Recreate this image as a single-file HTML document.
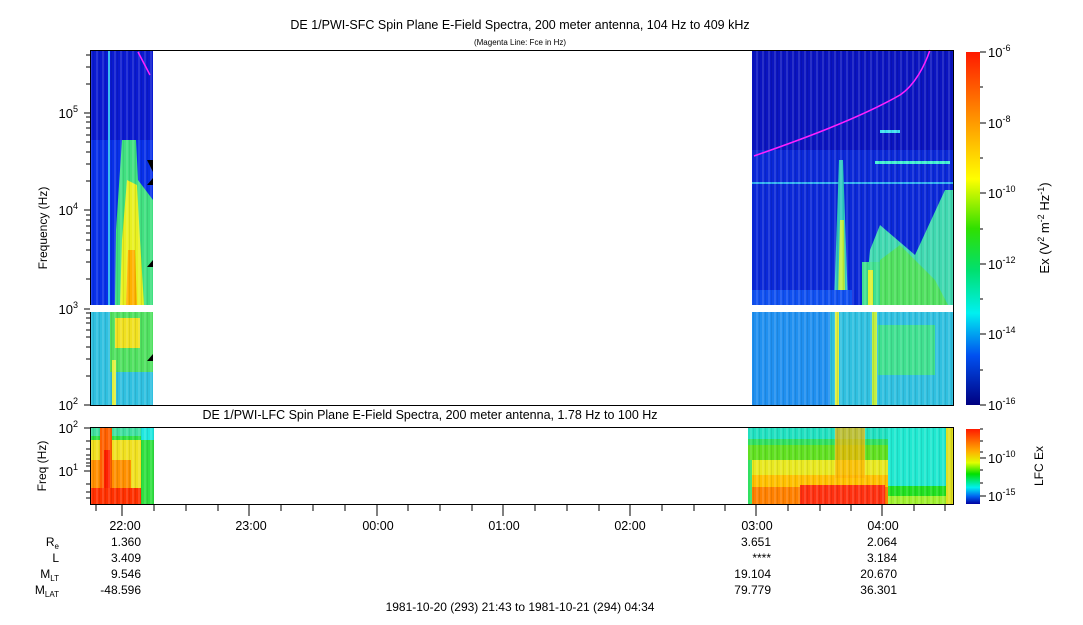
<!DOCTYPE html>
<html><head><style>
body{margin:0;background:#fff;width:1083px;height:620px;overflow:hidden;font-family:"Liberation Sans",sans-serif}
svg text{font-family:"Liberation Sans",sans-serif;fill:#000}
</style></head><body>
<svg width="1083" height="620" xmlns="http://www.w3.org/2000/svg">
<defs>
<linearGradient id="cb" x1="0" y1="0" x2="0" y2="1">
<stop offset="0" stop-color="#ff1a00"/><stop offset="0.2" stop-color="#ff9a00"/>
<stop offset="0.36" stop-color="#ffff00"/><stop offset="0.5" stop-color="#30e000"/>
<stop offset="0.62" stop-color="#00e070"/><stop offset="0.74" stop-color="#00f0f0"/>
<stop offset="0.86" stop-color="#0050f0"/><stop offset="1" stop-color="#000080"/>
</linearGradient>
<linearGradient id="cb2" x1="0" y1="0" x2="0" y2="1">
<stop offset="0" stop-color="#ff1a00"/><stop offset="0.3" stop-color="#ffb000"/>
<stop offset="0.45" stop-color="#e0ff00"/><stop offset="0.6" stop-color="#00e000"/>
<stop offset="0.78" stop-color="#00f0f0"/><stop offset="0.9" stop-color="#0060f0"/>
<stop offset="1" stop-color="#0000a0"/>
</linearGradient>
<pattern id="str" width="6" height="4" patternUnits="userSpaceOnUse">
<rect width="2" height="4" fill="#fff" opacity="0.12"/><rect x="3" width="1" height="4" fill="#000" opacity="0.08"/>
</pattern>
</defs>
<text x="520" y="29" font-size="12.5" text-anchor="middle">DE 1/PWI-SFC  Spin Plane E-Field Spectra, 200 meter antenna, 104 Hz to 409 kHz</text>
<text x="520" y="45" font-size="8" text-anchor="middle">(Magenta Line: Fce in Hz)</text>

<!-- left block main -->
<rect x="91" y="50" width="62" height="255" fill="#0a1ad0"/>
<rect x="91" y="140" width="62" height="165" fill="#0830e8"/>
<polygon points="122,140 136,140 138,180 153,200 153,305 115,305 116,230" fill="#40e080"/>
<polygon points="127,180 137,185 140,240 144,305 120,305 122,240" fill="#e8f020"/>
<polygon points="128,250 135,250 137,305 126,305" fill="#ffb000"/>
<rect x="108" y="50" width="2" height="255" fill="#20b0f0"/>
<rect x="91" y="312" width="62" height="93" fill="#30c0e0"/>
<rect x="110" y="312" width="43" height="60" fill="#50e060"/>
<rect x="115" y="318" width="25" height="30" fill="#f0e020"/>
<rect x="112" y="360" width="4" height="45" fill="#e0f040"/>
<rect x="91" y="50" width="62" height="355" fill="url(#str)"/>
<polygon points="147,160 153,160 153,172" fill="#000"/>
<polygon points="147,185 153,178 153,185" fill="#000"/>
<polygon points="147,267 153,260 153,267" fill="#000"/>
<polygon points="147,361 153,354 153,361" fill="#000"/>
<path d="M138,52 L150,75" stroke="#ff20ff" stroke-width="1.5" fill="none"/>

<!-- right block main -->
<rect x="752" y="50" width="201" height="255" fill="#0a14c0"/>
<rect x="752" y="150" width="201" height="155" fill="#0a28d8"/>
<rect x="752" y="182" width="201" height="2" fill="#30b0f0"/>
<rect x="875" y="161" width="75" height="3" fill="#40f0d0"/>
<rect x="880" y="130" width="20" height="3" fill="#40e0f0"/>
<polygon points="839,160 843,160 848,305 834,305" fill="#30c8c0"/>
<polygon points="840,220 844,220 845,300 838,300" fill="#c0f040"/>
<polygon points="870,250 880,225 915,255 945,190 953,190 953,305 865,305" fill="#40d8b0"/>
<polygon points="880,260 900,245 935,280 948,305 875,305" fill="#50e060"/>
<rect x="862" y="262" width="18" height="43" fill="#40e090"/>
<rect x="868" y="270" width="5" height="35" fill="#e0f030"/>
<rect x="752" y="290" width="100" height="15" fill="#1050f0"/>
<rect x="752" y="312" width="201" height="93" fill="#2090f0"/>
<rect x="830" y="312" width="123" height="93" fill="#30c0e0"/>
<rect x="878" y="325" width="57" height="50" fill="#40e090"/>
<rect x="835" y="312" width="4" height="93" fill="#e0f040"/>
<rect x="872" y="312" width="5" height="93" fill="#c0f040"/>
<rect x="752" y="50" width="201" height="355" fill="url(#str)"/>
<path d="M754,156 C800,140 860,118 900,95 C915,85 925,65 930,50" stroke="#ff20ff" stroke-width="1.5" fill="none"/>

<!-- main frame -->
<rect x="90.5" y="50.5" width="863" height="355" fill="none" stroke="#000"/>
<rect x="90" y="305" width="863" height="7" fill="#fff"/>
<g stroke="#000">
<line x1="84" y1="405" x2="90" y2="405"/><line x1="84" y1="309" x2="90" y2="309"/>
<line x1="84" y1="210" x2="90" y2="210"/><line x1="84" y1="113" x2="90" y2="113"/>
</g>
<g stroke="#000" stroke-width="1">
<path d="M86,376H90M86,359H90M86,347H90M86,337H90M86,330H90M86,323H90M86,318H90M86,313H90
M86,279H90M86,262H90M86,250H90M86,240H90M86,233H90M86,226H90M86,220H90M86,215H90
M86,181H90M86,164H90M86,152H90M86,142H90M86,135H90M86,128H90M86,122H90M86,117H90
M86,84H90M86,67H90M86,55H90"/>
</g>
<g font-size="13" text-anchor="end">
<text x="78" y="410">10<tspan dy="-6" font-size="9">2</tspan></text>
<text x="78" y="314">10<tspan dy="-6" font-size="9">3</tspan></text>
<text x="78" y="215">10<tspan dy="-6" font-size="9">4</tspan></text>
<text x="78" y="118">10<tspan dy="-6" font-size="9">5</tspan></text>
</g>
<text transform="translate(47,228) rotate(-90)" font-size="12" text-anchor="middle">Frequency (Hz)</text>

<!-- main colorbar -->
<rect x="966" y="52" width="14" height="353" fill="url(#cb)"/>
<g stroke="#000"><path d="M980,52H986M980,87H983M980,123H986M980,158H983M980,193H986M980,229H983M980,264H986M980,299H983M980,334H986M980,370H983M980,405H986"/></g>
<g font-size="13">
<text x="988" y="57">10<tspan dy="-6" font-size="9">-6</tspan></text>
<text x="988" y="128">10<tspan dy="-6" font-size="9">-8</tspan></text>
<text x="988" y="198">10<tspan dy="-6" font-size="9">-10</tspan></text>
<text x="988" y="269">10<tspan dy="-6" font-size="9">-12</tspan></text>
<text x="988" y="339">10<tspan dy="-6" font-size="9">-14</tspan></text>
<text x="988" y="410">10<tspan dy="-6" font-size="9">-16</tspan></text>
</g>
<text transform="translate(1049,228) rotate(-90)" font-size="13" text-anchor="middle">Ex (V<tspan dy="-5" font-size="9">2</tspan><tspan dy="5"> m</tspan><tspan dy="-5" font-size="9">-2</tspan><tspan dy="5"> Hz</tspan><tspan dy="-5" font-size="9">-1</tspan><tspan dy="5">)</tspan></text>

<!-- LFC panel -->
<text x="430" y="419" font-size="12.5" text-anchor="middle">DE 1/PWI-LFC  Spin Plane E-Field Spectra, 200 meter antenna, 1.78 Hz to 100 Hz</text>
<rect x="91" y="428" width="63" height="76" fill="#30e040"/>
<rect x="91" y="428" width="63" height="8" fill="#40e0a0"/>
<rect x="91" y="440" width="50" height="64" fill="#f0e020"/>
<rect x="91" y="460" width="40" height="44" fill="#ff9000"/>
<rect x="100" y="428" width="12" height="76" fill="#ff6000"/>
<rect x="104" y="450" width="6" height="54" fill="#ff2000"/>
<rect x="91" y="488" width="50" height="16" fill="#ff3000"/>
<rect x="141" y="428" width="13" height="12" fill="#20e8e0"/>
<rect x="748" y="428" width="205" height="76" fill="#30e060"/>
<rect x="748" y="428" width="205" height="11" fill="#20e0c0"/>
<rect x="748" y="445" width="140" height="15" fill="#60e020"/>
<rect x="752" y="460" width="136" height="15" fill="#e8e820"/>
<rect x="752" y="475" width="136" height="12" fill="#ffc000"/>
<rect x="752" y="487" width="136" height="17" fill="#ff8000"/>
<rect x="800" y="485" width="85" height="19" fill="#ff3010"/>
<rect x="835" y="428" width="30" height="50" fill="#ffb000" opacity="0.7"/>
<rect x="888" y="428" width="58" height="60" fill="#20e8d0"/>
<rect x="888" y="486" width="58" height="10" fill="#20e020"/>
<rect x="888" y="496" width="58" height="8" fill="#a0f030"/>
<rect x="946" y="428" width="7" height="76" fill="#e0e020"/>
<rect x="91" y="428" width="63" height="76" fill="url(#str)"/>
<rect x="748" y="428" width="205" height="76" fill="url(#str)"/>
<rect x="90.5" y="427.5" width="863" height="77" fill="none" stroke="#000"/>
<g stroke="#000"><path d="M84,428H90M84,471H90M86,441H90M86,449H90M86,455H90M86,459H90M86,463H90M86,466H90M86,484H90M86,492H90M86,498H90"/></g>
<text x="78" y="433" font-size="13" text-anchor="end">10<tspan dy="-6" font-size="9">2</tspan></text>
<text x="78" y="476" font-size="13" text-anchor="end">10<tspan dy="-6" font-size="9">1</tspan></text>
<text transform="translate(46,466) rotate(-90)" font-size="12" text-anchor="middle">Freq (Hz)</text>
<rect x="966" y="429" width="14" height="75" fill="url(#cb2)"/>
<g stroke="#000"><path d="M980,429H983M980,441H983M980,452H983M980,458H986M980,470H983M980,483H983M980,496H986"/></g>
<text x="988" y="463" font-size="13">10<tspan dy="-6" font-size="9">-10</tspan></text>
<text x="988" y="501" font-size="13">10<tspan dy="-6" font-size="9">-15</tspan></text>
<text transform="translate(1043,466) rotate(-90)" font-size="12" text-anchor="middle">LFC Ex</text>

<!-- time axis ticks -->
<g stroke="#000">
<path d="M96,505v6M122,505v11M154,505v6M186,505v6M218,505v6M249,505v11M281,505v6M313,505v6M345,505v6M377,505v11M408,505v6M440,505v6M472,505v6M503,505v11M535,505v6M567,505v6M599,505v6M630,505v11M662,505v6M694,505v6M725,505v6M756,505v11M788,505v6M820,505v6M851,505v6M882,505v11M914,505v6M945,505v6"/>
</g>
<g font-size="12.5" text-anchor="middle">
<text x="125" y="530">22:00</text><text x="251" y="530">23:00</text><text x="378" y="530">00:00</text>
<text x="504" y="530">01:00</text><text x="630" y="530">02:00</text><text x="757" y="530">03:00</text><text x="883" y="530">04:00</text>
</g>
<g font-size="12" text-anchor="end">
<text x="59" y="546">R<tspan dy="3" font-size="8">e</tspan></text>
<text x="59" y="562">L</text>
<text x="59" y="578">M<tspan dy="3" font-size="8">LT</tspan></text>
<text x="59" y="594">M<tspan dy="3" font-size="8">LAT</tspan></text>
<text x="141" y="546">1.360</text><text x="141" y="562">3.409</text><text x="141" y="578">9.546</text><text x="141" y="594">-48.596</text>
<text x="771" y="546">3.651</text><text x="771" y="562">****</text><text x="771" y="578">19.104</text><text x="771" y="594">79.779</text>
<text x="897" y="546">2.064</text><text x="897" y="562">3.184</text><text x="897" y="578">20.670</text><text x="897" y="594">36.301</text>
</g>
<text x="520" y="611" font-size="12" text-anchor="middle">1981-10-20 (293) 21:43 to 1981-10-21 (294) 04:34</text>
</svg>
</body></html>
